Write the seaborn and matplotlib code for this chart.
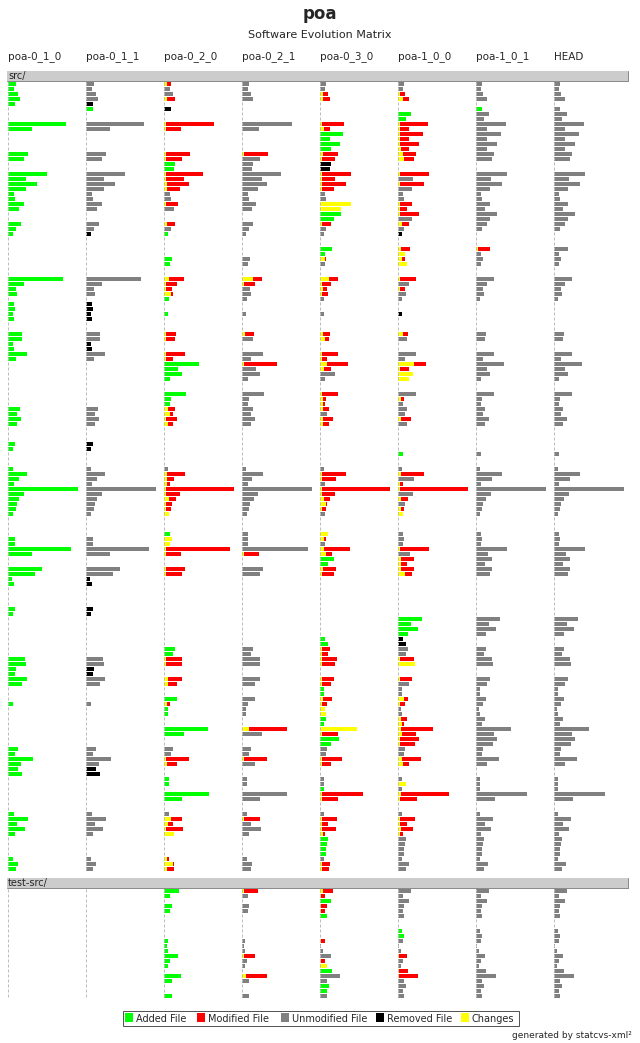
import matplotlib
matplotlib.use("Agg")
import matplotlib.pyplot as plt
import matplotlib.patches as mpatches
import pandas as pd
import seaborn as sns

sns.set_style("white")
plt.rcParams["font.family"] = ["DejaVu Sans"]

# versiones (columnas de la matriz)
versions = ['poa-0_1_0', 'poa-0_1_1', 'poa-0_2_0', 'poa-0_2_1',
            'poa-0_3_0', 'poa-1_0_0', 'poa-1_0_1', 'HEAD']

directories = ['src/', 'test-src/']

# una linea por archivo, un token por version
# A=agregado, U=sin cambios, R=borrado, M<cambios>:<tamano>=modificado, .=no existe, -=fila vacia
src_files = [
    "A8 U8 M3:7 U7 U6 U6 U6 U6",
    "A6 U6 U6 U6 U5 U5 U5 U5",
    "A10 U10 U9 U9 M3:8 M2:7 U7 U7",
    "A12 U12 M3:11 U11 M3:10 M5:11 U11 U11",
    "A7 R7 . . . . . .",
    ". A7 R7 . . . A6 U6",
    ". . . . . A13 U13 U13",
    ". . . . . A8 U8 U8",
    "A58 U58 M2:50 U50 M2:24 M2:30 U30 U30",
    "A24 U24 M2:17 U17 M4:10 M2:11 U11 U11",
    ". . . . A23 M2:25 U25 U25",
    ". . . . A10 M2:11 U11 U11",
    ". . . . A20 M2:21 U21 U21",
    ". . . . A11 M3:11 U11 U11",
    "A20 U20 M2:26 M2:26 M3:18 M5:18 U18 U18",
    "A16 U16 M2:18 U18 M2:15 M6:16 U16 U16",
    ". . A11 U11 R11 . . .",
    ". . A10 U10 R10 . . .",
    "A39 U39 M2:39 U39 M2:31 M2:31 U31 U31",
    "A18 U18 M2:20 U20 M2:15 U15 U15 U15",
    "A29 U29 M3:25 U25 M2:26 M2:26 U26 U26",
    "A18 U18 M3:16 U16 M2:14 U14 U14 U14",
    "A6 U6 U6 U6 U5 U5 U5 U5",
    "A7 U7 U7 U7 U6 U6 U6 U6",
    "A16 U16 M2:14 U14 M31:31 M2:14 U14 U14",
    "A11 U11 U10 U10 M21:21 M2:9 U9 U9",
    ". . . . A21 M2:21 U21 U21",
    ". . . . A14 U14 U14 U14",
    "A13 U13 M3:11 U11 M2:11 M4:11 U11 U11",
    "A8 U8 U7 U7 U6 U6 U6 U6",
    "A5 R5 A4 U4 U4 R4 . .",
    "-",
    "-",
    ". . . . A12 M3:12 M2:14 U14",
    ". . . . A5 M7:7 U5 U5",
    ". . A8 U8 M5:6 M4:7 U7 U7",
    ". . A6 U6 U5 M9:9 U5 U5",
    "-",
    "-",
    "A55 U55 M5:20 M11:20 M9:18 M2:18 U18 U18",
    "A16 U16 M2:13 M2:13 M2:11 U11 U11 U11",
    "A8 U8 M2:8 U8 M3:7 M2:7 U7 U7",
    "A9 U9 M7:9 U9 M2:8 U8 U8 U8",
    ". . A5 U5 U4 U4 U4 U4",
    "A6 R6 . . . . . .",
    "A7 R7 . . . . . .",
    "A5 R5 A4 U4 U4 R4 . .",
    "A6 R6 . . . . . .",
    "-",
    "-",
    "A14 U14 M2:12 M3:12 M3:10 M5:10 U10 U10",
    "A14 U14 M2:11 U11 M5:9 U9 U9 U9",
    "A5 R5 . . . . . .",
    "A6 R6 . . . . . .",
    "A19 U19 M2:21 U21 M2:18 U18 U18 U18",
    "A8 U8 M2:9 U9 M2:7 U7 U7 U7",
    ". . A35 M2:35 M7:28 M16:28 U28 U28",
    ". . A14 U14 M4:11 M2:11 U11 U11",
    ". . A18 U18 U15 M15:15 U14 U14",
    ". . A6 U6 U5 M11:11 U5 U5",
    "-",
    "-",
    ". . A22 U22 M2:18 U18 U18 U18",
    ". . A7 U7 M3:6 M3:6 U6 U6",
    ". . A6 U6 M3:5 U5 U5 U5",
    "A12 U12 M4:11 U11 M3:9 U9 U9 U9",
    "A9 U9 M6:9 U9 U7 U7 U7 U7",
    "A13 U13 M2:13 U13 M3:13 M3:13 U13 U13",
    "A9 U9 M4:9 U9 M3:9 U9 U9 U9",
    "-",
    "-",
    "-",
    "A7 R7 . . . . . .",
    "A5 R5 . . . . . .",
    ". . . . . A5 U5 U5",
    "-",
    "-",
    "A5 U5 U4 U4 U4 U4 U4 U4",
    "A19 U19 M3:21 U21 M2:26 M3:26 U26 U26",
    "A11 U11 M3:10 U10 M2:16 U16 U16 U16",
    "A6 U6 M3:6 U6 U5 M2:5 U5 U5",
    "A70 U70 M2:70 U70 M2:70 M2:70 U70 U70",
    "A16 U16 M2:16 U16 M2:15 U15 U15 U15",
    "A11 U11 M5:12 U12 M4:10 M3:10 U10 U10",
    "A9 U9 M2:8 U8 M6:7 U7 U7 U7",
    "A8 U8 M2:7 U7 M2:6 M3:6 U6 U6",
    "A5 U5 M5:5 U5 U5 M5:5 U4 U4",
    "-",
    "-",
    "-",
    ". . A6 U6 M8:8 U5 U5 U5",
    "A7 U7 M8:8 U6 M4:6 U6 U6 U6",
    "A7 U7 M6:6 U6 U5 U5 U5 U5",
    "A63 U63 M2:66 U66 M4:30 M2:31 U31 U31",
    "A24 U24 M2:17 M2:17 M6:12 U12 U12 U12",
    ". . . . A14 M3:16 U16 U16",
    ". . . . A8 M3:9 U9 U9",
    "A34 U34 M2:21 U21 M3:16 M3:16 U16 U16",
    "A27 U27 M2:18 U18 M2:14 M7:14 U14 U14",
    "A4 R4 . . . . . .",
    "A6 R6 . . . . . .",
    "-",
    "-",
    "-",
    "-",
    "A7 R7 . . . . . .",
    "A5 R5 . . . . . .",
    ". . . . . A24 U24 U24",
    ". . . . . A13 U13 U13",
    ". . . . . A20 U20 U20",
    ". . . . . A10 U10 U10",
    ". . . . A5 R5 . .",
    ". . . . A8 R8 . .",
    ". . A11 U11 M2:10 U10 U10 U10",
    ". . A9 U9 M2:8 U8 U8 U8",
    "A17 U17 M2:18 U18 M2:17 M2:16 U16 U16",
    "A18 U18 M2:18 U18 M2:15 M17:17 U17 U17",
    "A8 R8 . . . . . .",
    "A7 R7 . . . . . .",
    "A19 U19 M4:18 U18 M2:14 M2:14 U14 U14",
    "A14 U14 M4:13 U13 M2:11 U11 U11 U11",
    ". . . . A4 U4 U4 U4",
    ". . . . A4 U4 U4 U4",
    ". . A13 U13 M3:12 M6:10 U10 U10",
    "A5 U5 M3:6 U6 M2:7 M2:7 U7 U7",
    ". . A4 U4 M5:5 U3 U3 U3",
    ". . A4 U4 M6:6 U4 U4 U4",
    ". . . . A6 M3:9 U9 U9",
    ". . . . A4 M4:6 U6 U6",
    ". . A44 M7:45 M37:37 M3:35 U35 U35",
    ". . A20 U20 M2:18 M4:18 U18 U18",
    ". . . . A19 M2:21 U21 U21",
    ". . . . A11 M2:17 U17 U17",
    "A10 U10 U9 U9 U7 U7 U7 U7",
    "A7 U7 U7 U7 U6 U6 U6 U6",
    "A25 U25 M2:25 M2:25 M2:22 M4:23 U23 U23",
    "A13 U13 M3:13 U13 M2:11 M5:11 U11 U11",
    "A10 R10 . . . . . .",
    "A14 R14 . . . . . .",
    ". . A5 U5 U4 U4 U4 U4",
    ". . A5 U5 U4 M8:8 U4 U4",
    ". . . . A4 U4 U4 U4",
    ". . A45 U45 M2:43 M3:51 U51 U51",
    ". . A18 U18 M2:18 M2:19 U19 U19",
    "-",
    "-",
    "A6 U6 U5 U5 U4 U4 U4 U4",
    "A20 U20 M7:18 M2:18 M2:17 M2:17 U17 U17",
    "A9 U9 M4:9 U9 M2:8 M2:9 U9 U9",
    "A17 U17 M2:19 U19 M2:16 M3:15 U15 U15",
    "A7 U7 M10:10 U7 M3:5 M2:5 U5 U5",
    ". . . . A8 U8 U8 U8",
    ". . . . A7 U7 U7 U7",
    ". . . . A6 U6 U6 U6",
    ". . . . A6 U6 U6 U6",
    "A5 U5 M3:5 U5 U4 U4 U4 U4",
    "A10 U10 M9:10 U10 M2:10 U11 U12 U12",
    "A8 U7 M3:10 U9 M2:9 U8 U8 U8",
]

test_files = [
    ". . A15 M2:16 M3:13 U13 U13 U13",
    ". . A6 U6 M1:5 U5 U5 U5",
    ". . . . A11 U11 U11 U11",
    ". . A8 U7 M1:7 U6 U6 U6",
    ". . A6 U6 M1:5 U5 U5 U5",
    ". . . . A7 U6 U6 U6",
    "-",
    "-",
    ". . . . . A4 U4 U4",
    ". . . . . A6 U6 U6",
    ". . A4 U3 M1:5 U5 U5 U5",
    ". . A3 U2 U1 U1 U1 U1",
    ". . A4 U3 U3 U3 U3 U3",
    ". . A14 M2:13 U11 M1:9 U9 U9",
    ". . A6 U5 M1:5 U5 U5 U5",
    ". . A4 U3 M7:7 U3 U3 U3",
    ". . . . A12 M1:10 U10 U10",
    ". . A17 M4:25 U20 M1:20 U20 U20",
    ". . A8 U7 U7 U6 U6 U6",
    ". . . . A9 U8 U8 U8",
    ". . . . A7 U5 U5 U5",
    ". . A8 U7 U7 U6 U6 U6",
]

legend_labels = ['Added File', 'Modified File', 'Unmodified File', 'Removed File', 'Changes']
legend_keys = ['A', 'M', 'U', 'R', 'C']

colores = {'A': '#00ff00', 'M': '#ff0000', 'U': '#808080', 'R': '#000000', 'C': '#ffff00'}

# pasamos todo a una tabla de segmentos
segs = []
for d, filas in zip(directories, [src_files, test_files]):
    for i, fila in enumerate(filas):
        tokens = fila.split()
        if len(tokens) != len(versions):
            continue
        for j, tok in enumerate(tokens):
            if tok == '.':
                continue
            if tok[0] == 'M':
                cambios, tam = map(int, tok[1:].split(':'))
                segs.append((d, i, j, 0, cambios, 'C'))
                if tam > cambios:
                    segs.append((d, i, j, cambios, tam - cambios, 'M'))
            else:
                segs.append((d, i, j, 0, int(tok[1:]), tok[0]))
df = pd.DataFrame(segs, columns=['dir', 'fila', 'version', 'offset', 'ancho', 'tipo'])

# layout en pixeles
col_x0 = 7.5
col_paso = 78
fila_h = 5

fig = plt.figure(figsize=(6.4, 10.43), dpi=100)
ax = fig.add_axes([0, 0, 1, 1])
ax.set_xlim(0, 640)
ax.set_ylim(1043, 0)
ax.axis('off')

ax.text(320, 19, 'poa', ha='center', va='baseline', fontsize=12, fontweight='bold')
ax.text(320, 38, 'Software Evolution Matrix', ha='center', va='baseline', fontsize=8)
for j, v in enumerate(versions):
    ax.text(col_x0 + 0.5 + j * col_paso, 59.5, v, ha='left', va='baseline', fontsize=7.5)

y = 71
primera = {}
for d, filas in zip(directories, [src_files, test_files]):
    # cabecera del directorio
    ax.add_patch(mpatches.Rectangle((7, y), 621, 10, facecolor='#cccccc', edgecolor='none'))
    ax.plot([7, 628], [y + 9.5, y + 9.5], color='#8c8c8c', lw=0.72)
    ax.plot([627.5, 627.5], [y, y + 10], color='#8c8c8c', lw=0.72)
    ax.text(8, y + 8.3, d, ha='left', va='baseline', fontsize=7)
    inicio = y + 11
    primera[d] = inicio
    fin = inicio + len(filas) * fila_h - 1
    for j in range(len(versions)):
        x = col_x0 + j * col_paso
        ax.plot([x, x], [inicio, fin], color='#bdbdbd', lw=0.72, linestyle=(0, (3, 2)))
    y = inicio + len(filas) * fila_h + 6

df['y'] = df['dir'].map(primera) + df['fila'] * fila_h + 2
df['x'] = col_x0 + 0.5 + df['version'] * col_paso + df['offset']
ax.barh(df['y'], df['ancho'], left=df['x'], height=4,
        color=df['tipo'].map(colores), linewidth=0, antialiased=False)

# leyenda
ax.add_patch(mpatches.Rectangle((122.5, 1010.5), 396, 15, facecolor='white',
                                edgecolor='#555555', lw=0.72))
leg_x = [125, 197, 281, 376, 461]
for x, lab, k in zip(leg_x, legend_labels, legend_keys):
    ax.add_patch(mpatches.Rectangle((x, 1013), 8, 9, facecolor=colores[k], edgecolor='none'))
    ax.text(x + 11, 1021.5, lab, ha='left', va='baseline', fontsize=7)

ax.text(632, 1038, 'generated by statcvs-xml\u00b2', ha='right', va='baseline', fontsize=6.5)

fig.savefig('out.png', dpi=100)
